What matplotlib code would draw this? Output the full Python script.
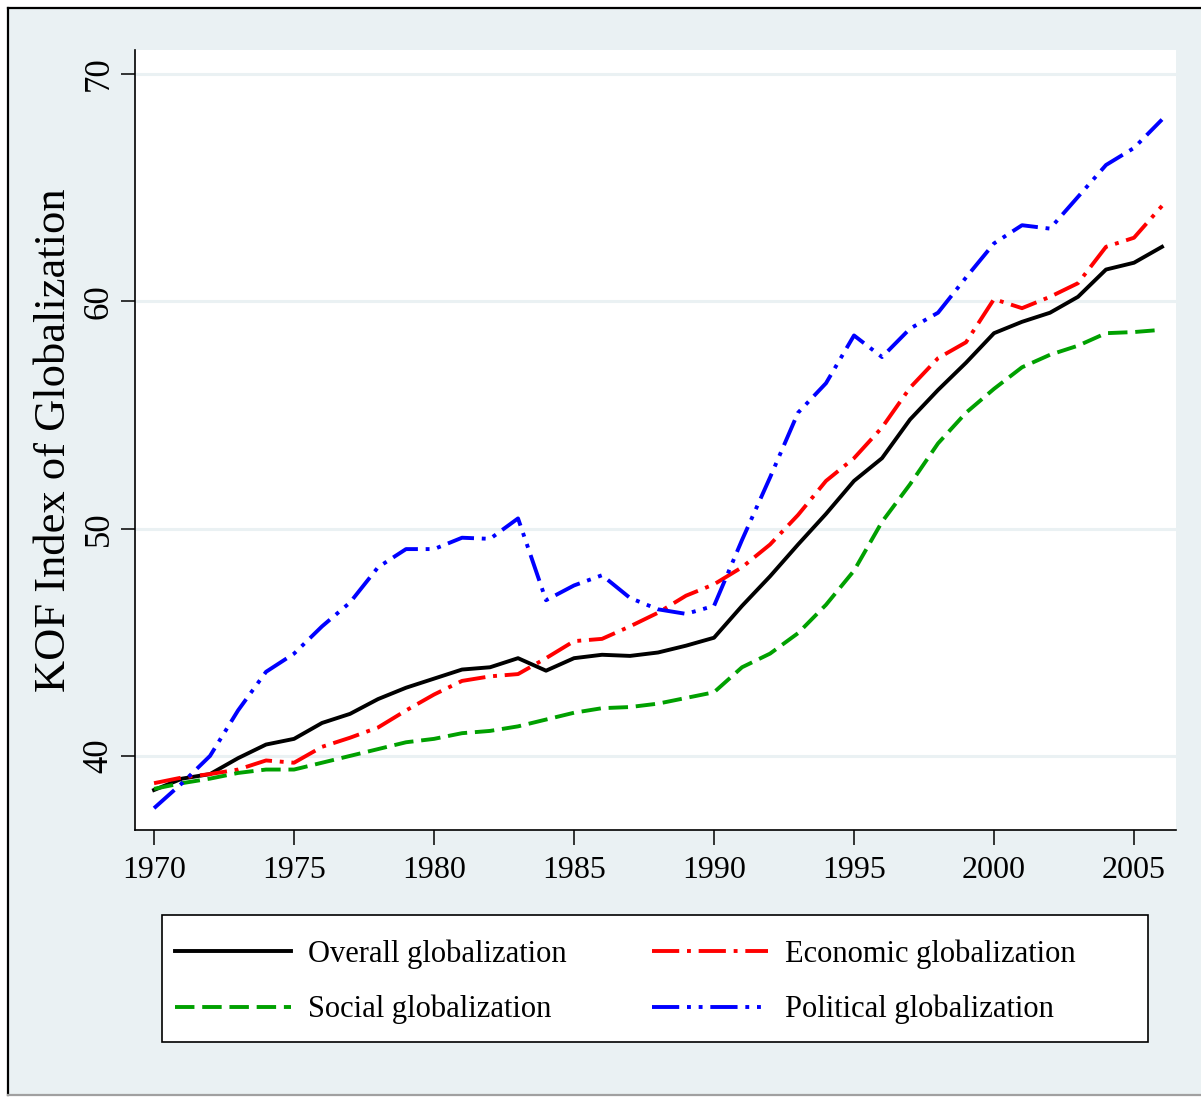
import matplotlib
matplotlib.use("Agg")
import matplotlib.pyplot as plt
from matplotlib.lines import Line2D
from matplotlib.patches import Rectangle

years = list(range(1970, 2007))

overall = [38.5, 39.0, 39.2, 39.9, 40.5, 40.75, 41.45, 41.85, 42.5, 43.0,
           43.4, 43.8, 43.9, 44.3, 43.75, 44.3, 44.45, 44.4, 44.55, 44.85,
           45.2, 46.6, 47.9, 49.3, 50.65, 52.1, 53.1, 54.8, 56.1, 57.3,
           58.6, 59.1, 59.5, 60.2, 61.4, 61.7, 62.4]
economic = [38.8, 39.05, 39.2, 39.4, 39.8, 39.7, 40.4, 40.8, 41.25, 42.0,
            42.7, 43.3, 43.5, 43.6, 44.3, 45.05, 45.15, 45.7, 46.3, 47.05,
            47.55, 48.3, 49.3, 50.6, 52.1, 53.1, 54.45, 56.2, 57.5, 58.2,
            60.1, 59.7, 60.2, 60.8, 62.4, 62.8, 64.2]
social = [38.55, 38.8, 39.0, 39.25, 39.4, 39.4, 39.7, 40.0, 40.3, 40.6,
          40.75, 41.0, 41.1, 41.3, 41.6, 41.9, 42.1, 42.15, 42.3, 42.55,
          42.8, 43.9, 44.5, 45.4, 46.65, 48.15, 50.3, 51.95, 53.75, 55.1,
          56.15, 57.1, 57.65, 58.05, 58.6, 58.65, 58.75]
political = [37.7, 38.8, 40.0, 42.0, 43.7, 44.5, 45.7, 46.75, 48.3, 49.1,
             49.1, 49.6, 49.55, 50.45, 46.85, 47.5, 47.95, 46.95, 46.45, 46.25,
             46.6, 49.5, 52.25, 55.1, 56.4, 58.5, 57.55, 58.8, 59.5, 61.05,
             62.55, 63.35, 63.2, 64.6, 66.0, 66.75, 68.0]

labels = ["Overall globalization", "Economic globalization",
          "Social globalization", "Political globalization"]

bg = "#EAF1F3"
plt.rcParams["font.family"] = ["Liberation Serif", "DejaVu Serif"]

fig = plt.figure(figsize=(12.01, 10.97), dpi=100, facecolor="white")
W, H = 1201, 1097

# panel background and its border
fig.add_artist(Rectangle((8 / W, 2 / H), 1.0, 1 - 10 / H, transform=fig.transFigure,
                         facecolor=bg, edgecolor="none", zorder=-10))
fig.add_artist(Line2D([8 / W, 8 / W], [2 / H, 1 - 8 / H], transform=fig.transFigure,
                      color="black", lw=1.6))
fig.add_artist(Line2D([8 / W, 1.0], [1 - 8 / H, 1 - 8 / H], transform=fig.transFigure,
                      color="black", lw=1.6))
fig.add_artist(Line2D([8 / W, 1.0], [2 / H, 2 / H], transform=fig.transFigure,
                      color="#a0a0a0", lw=1.6))

ax = fig.add_axes([135 / W, 1 - 830 / H, (1176 - 135) / W, (830 - 50) / H])
ax.set_facecolor("white")

lw = 2.8
h1, = ax.plot(years, overall, color="black", lw=lw, label=labels[0])
h2, = ax.plot(years, economic, color="#ff0000", lw=lw, dashes=(7, 2, 1, 2), label=labels[1])
h3, = ax.plot(years, social, color="#00a000", lw=lw, dashes=(5, 2), label=labels[2])
h4, = ax.plot(years, political, color="#0000ff", lw=lw, dashes=(7, 2, 1, 2, 1, 2), label=labels[3])

ax.set_xlim(1969.32, 2006.5)
ax.set_ylim(36.74, 71.06)
ax.set_xticks([1970, 1975, 1980, 1985, 1990, 1995, 2000, 2005])
ax.set_yticks([40, 50, 60, 70])
ax.grid(axis="y", color=bg, lw=2.2)
ax.set_axisbelow(True)

for s in ["top", "right"]:
    ax.spines[s].set_visible(False)
for s in ["left", "bottom"]:
    ax.spines[s].set_linewidth(1.2)

ax.tick_params(axis="x", length=11, width=1.1, pad=8, labelsize=23)
ax.tick_params(axis="y", length=10, width=1.1, pad=4, labelsize=25, labelrotation=90)
for t in ax.get_yticklabels():
    t.set_va("center")

ax.set_ylabel("KOF Index of Globalization", fontsize=32, labelpad=6)

# legend box drawn separately so the columns can sit where they do in the original
fig.add_artist(Rectangle((162 / W, 1 - 1042 / H), (1148 - 162) / W, (1042 - 915) / H,
                         transform=fig.transFigure, facecolor="white",
                         edgecolor="black", lw=1.2, zorder=1))

# row-major order in a two-column legend
leg = fig.legend(handles=[h1, h3, h2, h4], ncol=2, loc="center left",
                 bbox_to_anchor=(175 / W, 1 - 982 / H),
                 bbox_transform=fig.transFigure, borderaxespad=0, borderpad=0,
                 fontsize=22, handlelength=3.8, handletextpad=0.55,
                 labelspacing=0.85, frameon=False, columnspacing=2.8)
leg.set_zorder(2)

fig.savefig("out.png", dpi=100, facecolor="white")
